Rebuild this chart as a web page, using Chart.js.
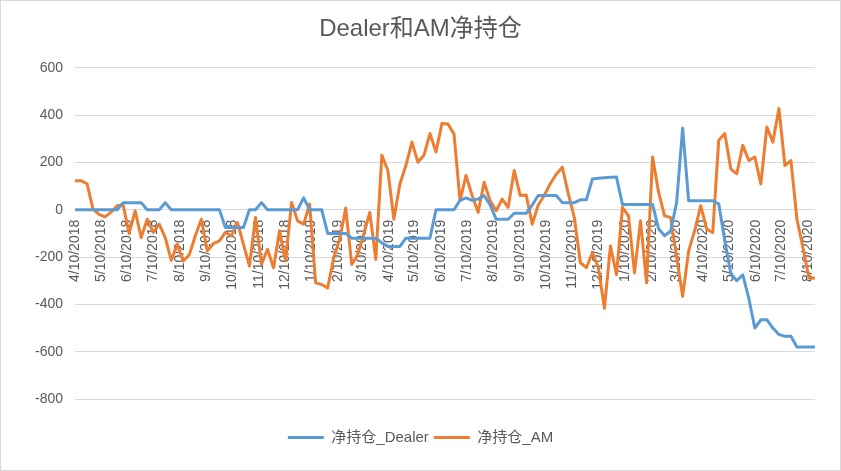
<!DOCTYPE html>
<html><head><meta charset="utf-8">
<script src="https://cdn.jsdelivr.net/npm/chart.js@4.4.1/dist/chart.umd.min.js"></script>
<style>html,body{margin:0;padding:0;background:#fff}#wrap{width:841px;height:471px;position:relative}</style>
</head><body><div id="wrap"><canvas id="c"></canvas></div>
<script>
// weekly series, first week = 4/10/2018
const startDate = '4/10/2018';
const dealer = [
  0,0,0,0,0,0,0,0, 30,30,30,30, 0,0,0, 30, 0,0,0,0,0,0,0,0,0,
  -75,-75,-75,-75, 0,0, 30, 0,0,0,0,0,0, 50, 0,0,0,
  -100,-100,-100,-100, -120,-120,-120,-120,-120,-140, -155,-155,-155,
  -120,-120,-120,-120,-120, 0,0,0,0, 40,50,40,45,60,20,
  -40,-40,-40, -15,-15,-15, 20, 60,60,60,60, 30,30,30, 42,42,
  130,133,135,137,138, 22,22,22,22,22,22, -80,-110,-90,30,345,
  38,38,38,38,38, 25, -130,-270,-300,-275,-375,-500,-465,-465,-500,-527,-535,-535,
  -580,-580,-580,-580
];
const am = [
  123,123,110,3,-20,-30,-10,17,20,-100,-5,-118,-40,-96,-61,-118,-214,-146,-217,-190,
  -110,-40,-174,-143,-132,-96,-110,-54,-146,-238,-33,-230,-167,-245,-89,-217,31,-47,-61,24,
  -309,-316,-330,-203,-125,7,-231,-189,-103,-11,-210,230,166,-40,109,187,286,201,230,322,
  244,365,362,320,38,145,60,-11,116,38,-4,45,10,166,60,62,-61,20,60,110,
  150,180,67,-33,-224,-245,-182,-245,-416,-153,-274,10,-26,-267,-47,-309,223,74,-26,-33,
  -200,-366,-174,-89,17,-82,-96,294,322,173,152,272,208,223,109,350,286,428,187,208,
  -40,-160,-288,-288
];
const tickLabels = [
  '4/10/2018','5/10/2018','6/10/2018','7/10/2018','8/10/2018','9/10/2018','10/10/2018','11/10/2018','12/10/2018',
  '1/10/2019','2/10/2019','3/10/2019','4/10/2019','5/10/2019','6/10/2019','7/10/2019','8/10/2019','9/10/2019','10/10/2019','11/10/2019','12/10/2019',
  '1/10/2020','2/10/2020','3/10/2020','4/10/2020','5/10/2020','6/10/2020','7/10/2020','8/10/2020'
];
const seriesNames = ['净持仓_Dealer', '净持仓_AM'];
const titleText = 'Dealer和AM净持仓';

function dayOffset(s){
  const [m,d,y] = s.split('/').map(Number);
  const [m0,d0,y0] = startDate.split('/').map(Number);
  return Math.round((Date.UTC(y,m-1,d) - Date.UTC(y0,m0-1,d0)) / 86400000);
}
const weekDays = dealer.map((_, i) => i * 7);
const tickDays = tickLabels.map(dayOffset);

const FONT = "'Liberation Sans', 'Noto Sans CJK SC', sans-serif";
const GRAY = '#595959';
const BLUE = '#5B9BD5', ORANGE = '#ED7D31';

const frame = {
  id: 'frame',
  afterDraw(chart){
    const ctx = chart.ctx;
    ctx.save();
    ctx.strokeStyle = '#d9d9d9';
    ctx.lineWidth = 1;
    ctx.strokeRect(0.5, 0.5, chart.width - 1, chart.height - 1);
    ctx.restore();
  }
};

new Chart(document.getElementById('c'), {
  type: 'line',
  data: {
    datasets: [
      { label: seriesNames[0], data: dealer.map((v,i)=>({x: weekDays[i], y: v})),
        xAxisID: 'x', yAxisID: 'y', borderColor: BLUE, backgroundColor: BLUE },
      { label: seriesNames[1], data: am.map((v,i)=>({x: weekDays[i], y: v})),
        xAxisID: 'x', yAxisID: 'y', borderColor: ORANGE, backgroundColor: ORANGE }
    ]
  },
  options: {
    responsive: true,
    maintainAspectRatio: false,
    animation: false,
    layout: { padding: { left: 0, right: 0, top: 0, bottom: 16 } },
    elements: {
      point: { radius: 0, hoverRadius: 0 },
      line: { borderWidth: 3, tension: 0, borderJoinStyle: 'round', borderCapStyle: 'round' }
    },
    plugins: {
      title: {
        display: true, text: titleText, color: GRAY,
        font: { family: FONT, size: 24, weight: 'normal' },
        padding: { top: 15, bottom: 24 }
      },
      legend: {
        position: 'bottom',
        labels: {
          color: GRAY,
          font: { family: FONT, size: 15 },
          boxWidth: 36, boxHeight: 3, padding: 5,
          generateLabels(chart){
            return chart.data.datasets.map((ds, i) => ({
              text: ds.label, fillStyle: ds.borderColor, strokeStyle: ds.borderColor,
              lineWidth: 0, hidden: false, datasetIndex: i, fontColor: GRAY
            }));
          }
        }
      },
      tooltip: { enabled: false }
    },
    scales: {
      y: {
        min: -800, max: 600,
        grid: { color: '#d9d9d9', lineWidth: 1, drawTicks: false },
        border: { display: false },
        ticks: { stepSize: 200, padding: 12, color: GRAY, font: { family: FONT, size: 14 } },
        afterFit(scale){ scale.width = 75; }
      },
      x: {
        type: 'linear',
        position: { y: 0 },
        min: 0, max: weekDays[weekDays.length - 1],
        grid: { display: false, drawTicks: false },
        border: { display: false },
        afterBuildTicks(scale){ scale.ticks = tickDays.map(v => ({ value: v })); },
        ticks: {
          autoSkip: false, minRotation: 90, maxRotation: 90, padding: 10,
          color: GRAY, font: { family: FONT, size: 14 },
          callback(value, index){ return tickLabels[index]; }
        }
      },
      pad: {
        type: 'linear', position: 'bottom', display: true,
        grid: { display: false, drawTicks: false }, border: { display: false },
        ticks: { display: false },
        afterFit(scale){ scale.height = 26; }
      },
      padR: {
        type: 'linear', position: 'right', display: true,
        grid: { display: false, drawTicks: false }, border: { display: false },
        ticks: { display: false },
        afterFit(scale){ scale.width = 26; }
      }
    }
  },
  plugins: [frame]
});
</script>
</body></html>
